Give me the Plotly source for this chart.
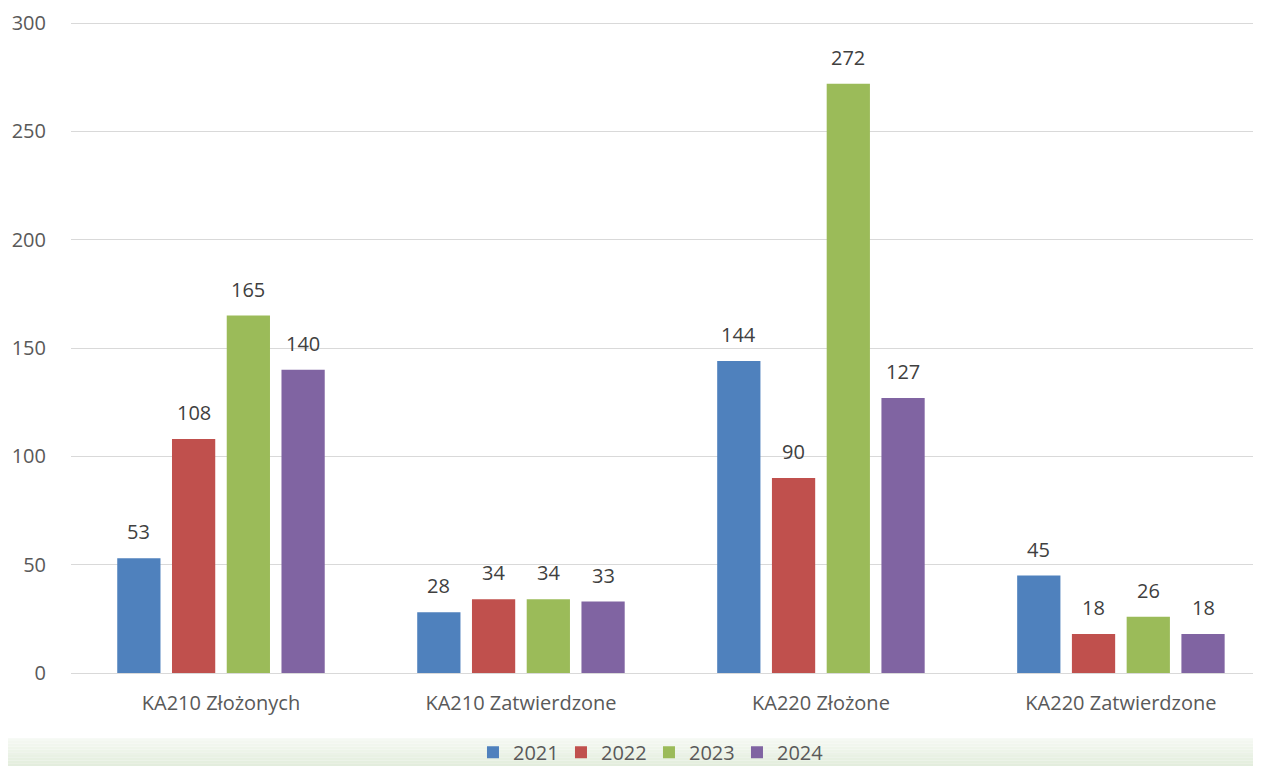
import plotly.graph_objects as go

categories = ["KA210 Złożonych", "KA210 Zatwierdzone", "KA220 Złożone", "KA220 Zatwierdzone"]
years = ["2021", "2022", "2023", "2024"]
values_2021 = [53, 28, 144, 45]
values_2022 = [108, 34, 90, 18]
values_2023 = [165, 34, 272, 26]
values_2024 = [140, 33, 127, 18]
series = [values_2021, values_2022, values_2023, values_2024]
colors = ["#4F81BD", "#C0504D", "#9BBB59", "#8064A2"]

FONT = "Open Sans"
FS = 20
BARGAP = 0.27

fig = go.Figure()
for name, vals, c in zip(years, series, colors):
    fig.add_trace(go.Bar(
        x=list(range(len(categories))), y=vals, name=name, marker_color=c,
        marker_line_width=0,
    ))

# data labels placed above each bar (grouped offsets in category units)
slot = (1 - BARGAP) / len(series)
annotations = []
for j, vals in enumerate(series):
    off = (j - (len(series) - 1) / 2) * slot
    for i, v in enumerate(vals):
        annotations.append(dict(x=i + off, y=v, text=str(v), showarrow=False,
                                xref="x", yref="y", yanchor="bottom", yshift=11,
                                font=dict(family=FONT, size=FS, color="#404040")))

# light green gradient band behind the legend
shapes = []
n = 14
top_c = (245, 249, 243)
bot_c = (219, 233, 212)
y_top, y_bot = -0.1, -0.16
for i in range(n):
    t = i / (n - 1)
    col = tuple(int(top_c[k] + (bot_c[k] - top_c[k]) * t) for k in range(3))
    y0 = y_top + (y_bot - y_top) * i / n
    y1 = y_top + (y_bot - y_top) * (i + 1) / n
    shapes.append(dict(type="rect", xref="paper", yref="paper", x0=-0.1, x1=1.05,
                       y0=y1, y1=y0, fillcolor="rgb(%d,%d,%d)" % col,
                       line_width=0, layer="below"))

fig.update_layout(
    width=1261, height=766,
    margin=dict(l=63, r=8, t=13, b=101, autoexpand=False),
    paper_bgcolor="white", plot_bgcolor="white",
    barmode="group", bargap=BARGAP, bargroupgap=0.21,
    font=dict(family=FONT, size=FS, color="#595959"),
    xaxis=dict(range=[-0.5, 3.467], showgrid=False, showline=False, ticks="",
               tickmode="array", tickvals=list(range(len(categories))),
               ticktext=categories, ticklabelstandoff=16,
               tickfont=dict(family=FONT, size=FS, color="#595959")),
    yaxis=dict(range=[0, 301], tickvals=[0, 50, 100, 150, 200, 250, 300],
               gridcolor="#D9D9D9", gridwidth=1.3,
               zeroline=True, zerolinecolor="#D9D9D9", zerolinewidth=1.3,
               showline=False, ticks="", ticklabelstandoff=24,
               tickfont=dict(family=FONT, size=FS, color="#595959")),
    legend=dict(orientation="h", x=0.4857, xanchor="center", y=-0.1215, yanchor="middle",
                bgcolor="rgba(0,0,0,0)", font=dict(family=FONT, size=FS, color="#595959"),
                itemwidth=30, tracegroupgap=0, entrywidth=43, entrywidthmode="pixels"),
    shapes=shapes,
    annotations=annotations,
    showlegend=True,
)

fig.write_html("out.html")
